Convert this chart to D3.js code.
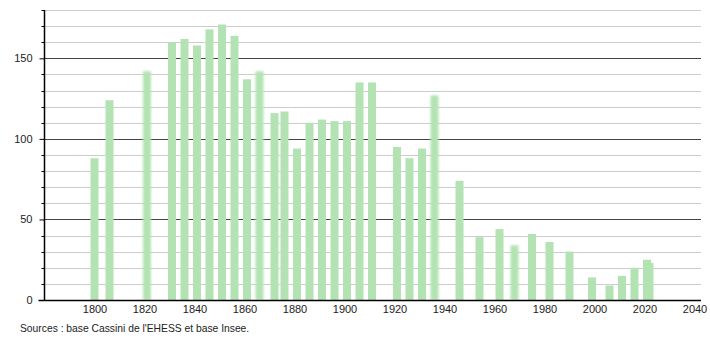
<!DOCTYPE html>
<html>
<head>
<meta charset="utf-8">
<script src="https://cdn.jsdelivr.net/npm/d3@7"></script>
<style>
  body { margin: 0; background: #fff; }
  text { font-family: "Liberation Sans", Arial, sans-serif; font-size: 11px; fill: #222; }
</style>
</head>
<body>
<svg id="chart" width="710" height="340"></svg>
<script>
// census years and population
var years = [1800, 1806, 1821, 1831, 1836, 1841, 1846, 1851, 1856, 1861, 1866, 1872, 1876,
             1881, 1886, 1891, 1896, 1901, 1906, 1911, 1921, 1926, 1931, 1936, 1946, 1954,
             1962, 1968, 1975, 1982, 1990, 1999, 2006, 2011, 2016, 2021, 2022];
var population = [88, 124, 142, 160, 162, 158, 168, 171, 164, 137, 142, 116, 117,
                  94, 110, 112, 111, 111, 135, 135, 95, 88, 94, 127, 74, 39,
                  44, 34, 41, 36, 30, 14, 9, 15, 20, 25, 23];
// years whose bars look soft / blurred in the reference
var blurred = [1821, 1866, 1936, 1968];
var xTicks = [1800, 1820, 1840, 1860, 1880, 1900, 1920, 1940, 1960, 1980, 2000, 2020, 2040];
var yTicks = [0, 50, 100, 150];
var source = "Sources : base Cassini de l'EHESS et base Insee.";

(function() {
var svg = d3.select("#chart");
var mLeft = 44.5, mRight = 701, mTop = 10, mBottom = 300;

var x = d3.scaleLinear().domain([1780, 2043]).range([mLeft, 702]);
var y = d3.scaleLinear().domain([0, 180]).range([mBottom, mTop]);

var defs = svg.append("defs");
defs.append("filter").attr("id", "soft")
    .attr("x", "-50%").attr("y", "-10%").attr("width", "200%").attr("height", "120%")
  .append("feGaussianBlur").attr("stdDeviation", "1.3 1");

// grid lines every 10, darker every 50
var grid = d3.range(10, 181, 10);
svg.append("g").selectAll("line")
    .data(grid)
    .enter().append("line")
      .attr("x1", mLeft).attr("x2", mRight)
      .attr("y1", function(d) { return Math.round(y(d)) + 0.5; })
      .attr("y2", function(d) { return Math.round(y(d)) + 0.5; })
      .attr("stroke", function(d) { return d % 50 === 0 ? "#444" : "#ccc"; })
      .attr("stroke-width", function(d) { return d % 50 === 0 ? 1.2 : 1; });

// bars (drawn last-first so 2021 sits over 2022)
var data = years.map(function(yr, i) { return { year: yr, value: population[i] }; }).reverse();
var bw = 8;
svg.append("g").selectAll("rect")
    .data(data)
    .enter().append("rect")
      .attr("x", function(d) { return x(d.year) - bw / 2; })
      .attr("y", function(d) { return y(d.value); })
      .attr("width", bw)
      .attr("height", function(d) { return mBottom - y(d.value); })
      .attr("fill", "#b3e3b3")
      .attr("filter", function(d) { return blurred.indexOf(d.year) !== -1 ? "url(#soft)" : null; });

// y axis: major ticks with labels, minor ticks every 10
var yAxis = d3.axisLeft(y)
    .tickValues(yTicks)
    .tickSize(5)
    .tickPadding(7)
    .tickFormat(d3.format("d"));
var ya = svg.append("g").attr("transform", "translate(" + mLeft + ",0)").call(yAxis);
ya.select(".domain").remove();
ya.selectAll("line").attr("stroke", "#000");
ya.selectAll("text").style("font-size", "11px").attr("fill", "#222");

svg.append("g").selectAll("line")
    .data(grid.filter(function(d) { return d % 50 !== 0; }))
    .enter().append("line")
      .attr("x1", mLeft - 3).attr("x2", mLeft)
      .attr("y1", function(d) { return Math.round(y(d)) + 0.5; })
      .attr("y2", function(d) { return Math.round(y(d)) + 0.5; })
      .attr("stroke", "#000");

svg.append("line")
    .attr("x1", mLeft).attr("x2", mLeft)
    .attr("y1", mTop).attr("y2", mBottom)
    .attr("stroke", "#000").attr("stroke-width", 1.5);

// x axis: no ticks, only labels
var xAxis = d3.axisBottom(x)
    .tickValues(xTicks)
    .tickSize(0)
    .tickPadding(5)
    .tickFormat(d3.format("d"));
var xa = svg.append("g").attr("transform", "translate(0," + mBottom + ")").call(xAxis);
xa.select(".domain").remove();
xa.selectAll("text").style("font-size", "11px").attr("fill", "#222");

svg.append("line")
    .attr("x1", mLeft - 6).attr("x2", mRight)
    .attr("y1", mBottom + 0.5).attr("y2", mBottom + 0.5)
    .attr("stroke", "#000").attr("stroke-width", 1.5);

svg.append("text")
    .attr("x", 20).attr("y", 332)
    .style("font-size", "10.3px")
    .text(source);
})();
</script>
</body>
</html>
